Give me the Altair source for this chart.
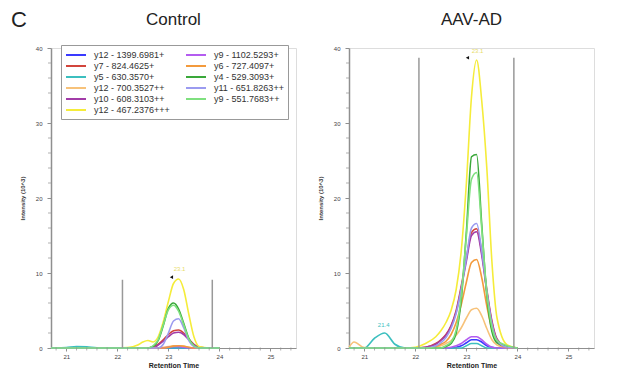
import altair as alt
import pandas as pd

FONT = "Liberation Sans"
PANEL_LETTER = ["C"]
PANEL_TITLES = ["Control", "AAV-AD"]

TIME = [20.7, 20.8, 21.0, 21.2, 21.4, 21.6, 21.8, 22.0, 22.2, 22.4, 22.5, 22.6,
        22.7, 22.8, 22.9, 23.0, 23.1, 23.2, 23.3, 23.4, 23.5, 23.6, 23.8, 24.0]

# legend is filled column by column: left column first, then right column
SERIES = ["y12 - 1399.6981+", "y7 - 824.4625+", "y5 - 630.3570+", "y12 - 700.3527++",
          "y10 - 608.3103++", "y12 - 467.2376+++",
          "y9 - 1102.5293+", "y6 - 727.4097+", "y4 - 529.3093+", "y11 - 651.8263++",
          "y9 - 551.7683++"]
COLORS = ["#3a3aff", "#d2453c", "#3cbfbf", "#f7c27a", "#a23ca8", "#f5ec3a",
          "#b45cf0", "#f39a3c", "#3aa83a", "#9b9bf0", "#7fe07f"]

# ---- Control panel (intensity x10^3) ----
C_Y12_1399 = [0, 0, 0, 0, 0, 0, 0, 0, 0, 0, 0, 0, 0, 0, 0, 0, 0, 0, 0, 0, 0, 0, 0, 0]
C_Y7 = [0, 0, 0, 0, 0, 0, 0, 0, 0, 0, 0, 0, 0.2, 0.5, 1.1, 1.8, 2.3, 2.4, 2.0, 1.2, 0.5, 0.1, 0, 0]
C_Y5 = [0, 0, 0.05, 0.2, 0.15, 0.02, 0, 0, 0, 0, 0, 0, 0, 0, 0, 0, 0, 0, 0, 0, 0, 0, 0, 0]
C_Y12_700 = [0, 0, 0, 0, 0, 0, 0, 0, 0, 0, 0, 0, 0, 0, 0.1, 0.2, 0.3, 0.3, 0.2, 0.1, 0, 0, 0, 0]
C_Y10 = [0, 0, 0, 0, 0, 0, 0, 0, 0, 0, 0, 0, 0, 0.4, 0.9, 1.5, 2.0, 2.1, 1.8, 1.1, 0.4, 0.1, 0, 0]
C_Y12_467 = [0, 0, 0, 0, 0, 0, 0, 0, 0.05, 0.4, 0.8, 1.0, 0.8, 1.5, 3.5, 6.2, 8.6, 9.2, 7.8, 4.5, 1.5, 0.2, 0, 0]
C_Y9_1102 = [0, 0, 0, 0, 0, 0, 0, 0, 0, 0, 0, 0, 0, 0, 0, 0.1, 0.2, 0.2, 0.1, 0, 0, 0, 0, 0]
C_Y6 = [0, 0, 0, 0, 0, 0, 0, 0, 0, 0, 0, 0, 0, 0, 0, 0.1, 0.25, 0.3, 0.25, 0.1, 0, 0, 0, 0]
C_Y4 = [0, 0, 0, 0, 0, 0, 0, 0, 0, 0, 0, 0, 0.2, 1.0, 3.0, 5.3, 6.0, 5.2, 3.3, 1.3, 0.3, 0, 0, 0]
C_Y11 = [0, 0, 0, 0, 0, 0, 0, 0, 0, 0, 0, 0, 0, 0, 0.5, 2.0, 3.6, 3.9, 2.7, 1.0, 0.2, 0, 0, 0]
C_Y9_551 = [0, 0, 0, 0, 0, 0, 0, 0, 0, 0, 0, 0, 0.3, 1.1, 3.1, 5.1, 5.7, 4.9, 3.1, 1.2, 0.3, 0, 0, 0]

# ---- AAV-AD panel (intensity x10^3) ----
A_Y12_1399 = [0, 0, 0, 0, 0, 0, 0, 0, 0, 0, 0, 0, 0, 0.1, 0.3, 0.7, 1.1, 1.1, 0.8, 0.3, 0.1, 0, 0, 0]
A_Y7 = [0, 0, 0, 0, 0, 0, 0, 0, 0.1, 0.6, 1.1, 1.8, 3.0, 5.0, 8.3, 12.0, 15.4, 15.9, 12.8, 7.8, 3.6, 1.2, 0.1, 0]
A_Y5 = [0, 0, 0, 1.3, 2.0, 0.5, 0, 0, 0, 0, 0, 0, 0, 0, 0, 0.3, 0.6, 0.6, 0.3, 0, 0, 0, 0, 0]
A_Y12_700 = [0.1, 0.8, 0.05, 0, 0, 0, 0, 0, 0, 0.1, 0.3, 0.6, 1.0, 1.7, 2.7, 4.0, 5.1, 5.3, 4.3, 2.6, 1.1, 0.4, 0, 0]
A_Y10 = [0, 0, 0, 0, 0, 0, 0, 0, 0.1, 0.5, 1.0, 1.7, 2.9, 4.8, 8.0, 11.6, 15.0, 15.5, 12.4, 7.5, 3.4, 1.1, 0.1, 0]
A_Y12_467 = [0, 0, 0, 0, 0, 0, 0, 0.1, 0.6, 1.5, 2.3, 3.4, 5.0, 7.8, 13.0, 22.0, 33.5, 38.4, 33.0, 24.0, 11.5, 4.0, 0.4, 0]
A_Y9_1102 = [0, 0, 0, 0, 0, 0, 0, 0, 0, 0, 0, 0, 0.1, 0.3, 0.6, 1.1, 1.5, 1.5, 1.1, 0.5, 0.1, 0, 0, 0]
A_Y6 = [0, 0, 0, 0, 0, 0, 0, 0, 0, 0.2, 0.5, 0.9, 1.8, 3.4, 5.8, 8.8, 11.4, 11.8, 9.4, 5.6, 2.5, 0.8, 0.05, 0]
A_Y4 = [0, 0, 0, 0, 0, 0, 0, 0, 0, 0, 0, 0.2, 0.6, 2.0, 6.5, 15.5, 25.5, 25.8, 16.5, 7.0, 2.2, 0.7, 0.2, 0]
A_Y11 = [0, 0, 0, 0, 0, 0, 0, 0, 0, 0.3, 0.7, 1.4, 2.6, 4.6, 7.9, 12.0, 16.0, 16.6, 13.0, 7.6, 3.2, 1.0, 0.1, 0]
A_Y9_551 = [0, 0, 0, 0, 0, 0, 0, 0, 0, 0, 0, 0.3, 0.8, 2.4, 7.0, 15.0, 22.5, 23.4, 16.0, 7.4, 2.8, 1.0, 0.3, 0]

# integration window markers
C_RULE_T = [22.1, 23.86]
C_RULE_TOP = [9.1, 9.1]
A_RULE_T = [22.07, 23.93]
A_RULE_TOP = [38.7, 38.7]

# apex annotations
C_APEX_ARROW = (23.06, 9.45)
A_APEX_ARROW = (23.02, 38.7)
C_APEX_LABEL = (23.22, 10.1, "23.1")
A_APEX_LABEL = (23.22, 39.2, "23.1")
A_EXTRA_LABEL = (21.38, 2.7, "21.4")

X_DOMAIN = [20.7, 25.5]
Y_DOMAIN = [0, 40]
X_MAJOR = [21, 22, 23, 24, 25]
Y_MAJOR = [0, 10, 20, 30, 40]
X_MINOR = [20.8, 21.2, 21.4, 21.6, 21.8, 22.2, 22.4, 22.6, 22.8, 23.2, 23.4, 23.6, 23.8,
           24.2, 24.4, 24.6, 24.8, 25.2, 25.4]
Y_MINOR = [2, 4, 6, 8, 12, 14, 16, 18, 22, 24, 26, 28, 32, 34, 36, 38]

PLOT_W = 245
PLOT_H = 300
AXIS_GREY = "#8f8f8f"

X_ENC = alt.X("t:Q", scale=alt.Scale(domain=X_DOMAIN, nice=False, zero=False),
              title="Retention Time",
              axis=alt.Axis(values=X_MAJOR, format="d", labelOverlap=False, grid=False,
                            domain=True, domainColor=AXIS_GREY, domainWidth=1.2,
                            ticks=True, tickSize=3, tickColor=AXIS_GREY,
                            labelFontSize=6, labelColor="#444", titleFontSize=7,
                            titleFontWeight="bold", titleColor="#222",
                            labelPadding=2, titlePadding=2, labelFont=FONT, titleFont=FONT))
Y_ENC = alt.Y("v:Q", scale=alt.Scale(domain=Y_DOMAIN, nice=False),
              title="Intensity (10^3)",
              axis=alt.Axis(values=Y_MAJOR, format="d", labelOverlap=False, grid=False,
                            domain=True, domainColor=AXIS_GREY, domainWidth=1.5,
                            ticks=True, tickSize=4, tickColor=AXIS_GREY,
                            labelFontSize=6, labelColor="#444", titleFontSize=6,
                            titleFontWeight="bold", titleColor="#333",
                            labelPadding=5, titlePadding=10, labelFont=FONT, titleFont=FONT))


def long_df(series_values):
    rows = []
    for name, vals in zip(SERIES, series_values):
        for t, v in zip(TIME, vals):
            rows.append({"t": t, "v": v, "s": name})
    return pd.DataFrame(rows)


def panel(title, series_values, rule_t, rule_top, arrow, apex_label, extra_labels, legend, letter):
    df = long_df(series_values)
    color = alt.Color("s:N", scale=alt.Scale(domain=SERIES, range=COLORS), legend=legend)
    lines = alt.Chart(df).mark_line(strokeWidth=1.6, interpolate="monotone").encode(
        x=X_ENC, y=Y_ENC, color=color)

    rdf = pd.DataFrame({"t": rule_t, "v": [0] * len(rule_t), "v2": rule_top})
    rules = alt.Chart(rdf).mark_rule(color="#999999", strokeWidth=1.5).encode(
        x=X_ENC, y=Y_ENC, y2="v2:Q")

    # minor ticks along the axes
    xm = alt.Chart(pd.DataFrame({"t": X_MINOR, "v": [0] * len(X_MINOR)})).mark_tick(
        orient="vertical", size=3, thickness=1, color=AXIS_GREY, yOffset=1).encode(x=X_ENC, y=Y_ENC)
    ym = alt.Chart(pd.DataFrame({"t": [X_DOMAIN[0]] * len(Y_MINOR), "v": Y_MINOR})).mark_tick(
        orient="horizontal", size=3, thickness=1, color=AXIS_GREY, xOffset=-1.5).encode(x=X_ENC, y=Y_ENC)

    adf = pd.DataFrame({"t": [arrow[0]], "v": [arrow[1]]})
    arrows = alt.Chart(adf).mark_point(shape="triangle-left", filled=True, color="#111",
                                       size=14, opacity=1).encode(x=X_ENC, y=Y_ENC)

    ldf = pd.DataFrame({"t": [apex_label[0]], "v": [apex_label[1]], "txt": [apex_label[2]]})
    labels = alt.Chart(ldf).mark_text(fontSize=6, color="#e8dc6a", font=FONT,
                                      baseline="bottom").encode(x=X_ENC, y=Y_ENC, text="txt:N")

    ttl = alt.Chart(pd.DataFrame({"txt": [title]})).mark_text(
        fontSize=17, color="#222", font=FONT, align="center", baseline="middle").encode(
        text="txt:N", x=alt.value(PLOT_W / 2), y=alt.value(-28))

    layers = [lines, rules, xm, ym, arrows, labels, ttl]
    if extra_labels:
        edf = pd.DataFrame({"t": [extra_labels[0]], "v": [extra_labels[1]], "txt": [extra_labels[2]]})
        layers.append(alt.Chart(edf).mark_text(fontSize=6, color="#3cbfbf", font=FONT,
                                               baseline="bottom").encode(x=X_ENC, y=Y_ENC, text="txt:N"))
    if letter:
        tdf = pd.DataFrame({"txt": letter})
        layers.append(alt.Chart(tdf).mark_text(fontSize=22, color="#222", font=FONT, align="left",
                                               baseline="middle").encode(
            text="txt:N", x=alt.value(-40), y=alt.value(-28)))
    return alt.layer(*layers).properties(width=PLOT_W, height=PLOT_H)


legend_left = alt.Legend(orient="none", legendX=10, legendY=-3, columns=2, title=None,
                         symbolType="M-2,0H2", symbolSize=100, symbolStrokeWidth=2,
                         symbolOffset=5,
                         labelFontSize=9, labelFont=FONT, labelColor="#333", labelOffset=12,
                         strokeColor="#999", fillColor="white", padding=4,
                         columnPadding=12, rowPadding=0, labelLimit=200)

left = panel(PANEL_TITLES[0],
             [C_Y12_1399, C_Y7, C_Y5, C_Y12_700, C_Y10, C_Y12_467,
              C_Y9_1102, C_Y6, C_Y4, C_Y11, C_Y9_551],
             C_RULE_T, C_RULE_TOP, C_APEX_ARROW, C_APEX_LABEL, None, legend_left, PANEL_LETTER)
right = panel(PANEL_TITLES[1],
              [A_Y12_1399, A_Y7, A_Y5, A_Y12_700, A_Y10, A_Y12_467,
               A_Y9_1102, A_Y6, A_Y4, A_Y11, A_Y9_551],
              A_RULE_T, A_RULE_TOP, A_APEX_ARROW, A_APEX_LABEL, A_EXTRA_LABEL, None, None)

chart = alt.hconcat(left, right, spacing=19).resolve_scale(color="independent").properties(
    padding={"left": 2, "top": 0, "right": 0, "bottom": 0}
).configure_view(stroke=None).configure(background="white")

chart.save("out.html", embed_options={"renderer": "svg", "actions": False})
